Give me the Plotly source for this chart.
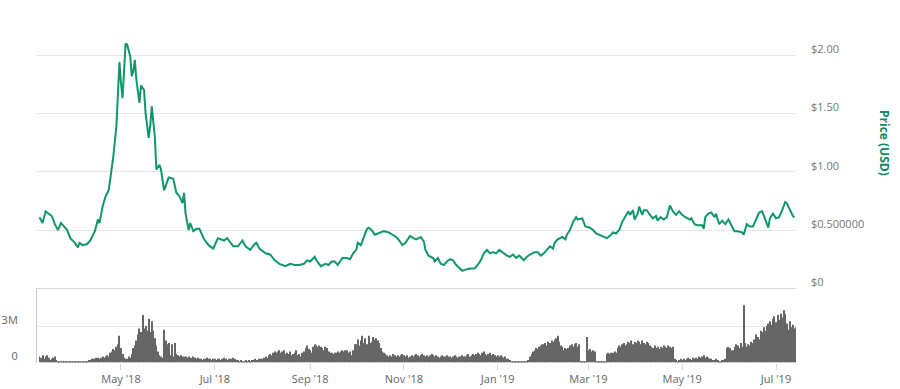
import plotly.graph_objects as go
import pandas as pd

# ---------------- price (USD) ----------------
price_dates = [
    "2018-03-09", "2018-03-11", "2018-03-13", "2018-03-15", "2018-03-17", "2018-03-19", "2018-03-21",
    "2018-03-23", "2018-03-25", "2018-03-27", "2018-03-29", "2018-04-01", "2018-04-03", "2018-04-04",
    "2018-04-06", "2018-04-09", "2018-04-11", "2018-04-14", "2018-04-16", "2018-04-17", "2018-04-19",
    "2018-04-21", "2018-04-23", "2018-04-25", "2018-04-26", "2018-04-28", "2018-04-29", "2018-04-30",
    "2018-05-01", "2018-05-02", "2018-05-04", "2018-05-05", "2018-05-07", "2018-05-08", "2018-05-09",
    "2018-05-10", "2018-05-11", "2018-05-13", "2018-05-14", "2018-05-16", "2018-05-17", "2018-05-18",
    "2018-05-19", "2018-05-20", "2018-05-21", "2018-05-23", "2018-05-24", "2018-05-26", "2018-05-27",
    "2018-05-29", "2018-06-01", "2018-06-04", "2018-06-06", "2018-06-08", "2018-06-10", "2018-06-11",
    "2018-06-12", "2018-06-14", "2018-06-15", "2018-06-17", "2018-06-19", "2018-06-21", "2018-06-24",
    "2018-06-27", "2018-06-30", "2018-07-03", "2018-07-07", "2018-07-09", "2018-07-11", "2018-07-13",
    "2018-07-16", "2018-07-19", "2018-07-21", "2018-07-24", "2018-07-27", "2018-07-28", "2018-07-30",
    "2018-08-03", "2018-08-06", "2018-08-09", "2018-08-12", "2018-08-16", "2018-08-19", "2018-08-22",
    "2018-08-25", "2018-08-28", "2018-08-30", "2018-09-01", "2018-09-04", "2018-09-05", "2018-09-08",
    "2018-09-11", "2018-09-13", "2018-09-15", "2018-09-17", "2018-09-19", "2018-09-22", "2018-09-25",
    "2018-09-27", "2018-09-29", "2018-10-01", "2018-10-02", "2018-10-04", "2018-10-06", "2018-10-08",
    "2018-10-09", "2018-10-11", "2018-10-13", "2018-10-15", "2018-10-17", "2018-10-19", "2018-10-22",
    "2018-10-25", "2018-10-27", "2018-10-29", "2018-10-31", "2018-11-02", "2018-11-05", "2018-11-07",
    "2018-11-09", "2018-11-12", "2018-11-14", "2018-11-15", "2018-11-17", "2018-11-20", "2018-11-21",
    "2018-11-23", "2018-11-25", "2018-11-27", "2018-11-29", "2018-12-01", "2018-12-03", "2018-12-05",
    "2018-12-09", "2018-12-11", "2018-12-14", "2018-12-17", "2018-12-19", "2018-12-21", "2018-12-23",
    "2018-12-25", "2018-12-27", "2018-12-29", "2018-12-31", "2019-01-02", "2019-01-05", "2019-01-07",
    "2019-01-09", "2019-01-11", "2019-01-13", "2019-01-15", "2019-01-18", "2019-01-20", "2019-01-22",
    "2019-01-25", "2019-01-27", "2019-01-29", "2019-01-31", "2019-02-02", "2019-02-04", "2019-02-06",
    "2019-02-07", "2019-02-09", "2019-02-12", "2019-02-14", "2019-02-15", "2019-02-17", "2019-02-19",
    "2019-02-21", "2019-02-22", "2019-02-25", "2019-02-27", "2019-03-02", "2019-03-04", "2019-03-06",
    "2019-03-08", "2019-03-11", "2019-03-13", "2019-03-15", "2019-03-17", "2019-03-19", "2019-03-21",
    "2019-03-23", "2019-03-25", "2019-03-27", "2019-03-28", "2019-03-30", "2019-03-31", "2019-04-02",
    "2019-04-03", "2019-04-05", "2019-04-06", "2019-04-08", "2019-04-10", "2019-04-12", "2019-04-14",
    "2019-04-15", "2019-04-17", "2019-04-19", "2019-04-21", "2019-04-23", "2019-04-25", "2019-04-27",
    "2019-04-29", "2019-05-01", "2019-05-03", "2019-05-06", "2019-05-07", "2019-05-09", "2019-05-11",
    "2019-05-14", "2019-05-15", "2019-05-16", "2019-05-18", "2019-05-20", "2019-05-22", "2019-05-23",
    "2019-05-25", "2019-05-27", "2019-05-29", "2019-05-31", "2019-06-02", "2019-06-04", "2019-06-06",
    "2019-06-09", "2019-06-10", "2019-06-12", "2019-06-14", "2019-06-16", "2019-06-18", "2019-06-20",
    "2019-06-22", "2019-06-24", "2019-06-26", "2019-06-27", "2019-06-29", "2019-07-01", "2019-07-03",
    "2019-07-05", "2019-07-07", "2019-07-08", "2019-07-10", "2019-07-12", "2019-07-13",
]
price_usd = [
    0.61, 0.56, 0.66, 0.64, 0.62, 0.55, 0.50,
    0.56, 0.53, 0.50, 0.43, 0.39, 0.35, 0.39,
    0.37, 0.38, 0.41, 0.49, 0.59, 0.56, 0.70,
    0.79, 0.84, 1.02, 1.13, 1.39, 1.64, 1.94,
    1.76, 1.63, 2.10, 2.09, 1.99, 1.82, 1.86,
    1.96, 1.79, 1.59, 1.74, 1.70, 1.50, 1.39,
    1.29, 1.39, 1.56, 1.30, 1.02, 1.06, 1.02,
    0.84, 0.95, 0.94, 0.82, 0.79, 0.73, 0.82,
    0.64, 0.50, 0.56, 0.49, 0.51, 0.51, 0.42,
    0.37, 0.34, 0.43, 0.41, 0.43, 0.39, 0.36,
    0.36, 0.41, 0.36, 0.33, 0.38, 0.39, 0.34,
    0.30, 0.29, 0.24, 0.21, 0.19, 0.21, 0.20,
    0.20, 0.21, 0.24, 0.23, 0.27, 0.24, 0.19,
    0.21, 0.20, 0.23, 0.23, 0.20, 0.26, 0.26,
    0.25, 0.30, 0.33, 0.39, 0.37, 0.44, 0.51,
    0.52, 0.50, 0.46, 0.47, 0.48, 0.49, 0.48,
    0.46, 0.44, 0.41, 0.37, 0.39, 0.45, 0.43,
    0.42, 0.44, 0.40, 0.33, 0.28, 0.26, 0.23,
    0.26, 0.21, 0.20, 0.23, 0.25, 0.24, 0.20,
    0.15, 0.16, 0.17, 0.17, 0.20, 0.24, 0.30,
    0.33, 0.30, 0.31, 0.30, 0.33, 0.30, 0.28,
    0.27, 0.29, 0.26, 0.28, 0.24, 0.27, 0.29,
    0.31, 0.31, 0.28, 0.30, 0.33, 0.36, 0.34,
    0.39, 0.42, 0.44, 0.42, 0.46, 0.50, 0.57,
    0.61, 0.59, 0.60, 0.53, 0.52, 0.50, 0.47,
    0.46, 0.44, 0.43, 0.45, 0.48, 0.47, 0.50,
    0.57, 0.61, 0.66, 0.63, 0.67, 0.59, 0.64,
    0.70, 0.63, 0.67, 0.67, 0.63, 0.60, 0.62,
    0.58, 0.61, 0.59, 0.61, 0.71, 0.66, 0.63,
    0.66, 0.63, 0.61, 0.59, 0.60, 0.55, 0.54,
    0.54, 0.51, 0.61, 0.64, 0.65, 0.61, 0.64,
    0.55, 0.58, 0.55, 0.59, 0.54, 0.49, 0.49,
    0.48, 0.46, 0.55, 0.53, 0.53, 0.59, 0.65,
    0.66, 0.59, 0.52, 0.60, 0.64, 0.60, 0.61,
    0.67, 0.74, 0.73, 0.67, 0.62, 0.61,
]

# ---------------- daily volume (millions), one list per month ----------------
vol_2018_03 = [0.5, 0.4, 0.6, 0.3, 0.5, 0.6, 0.4, 0.2, 0.3, 0.4, 0.5, 0.2,
               0.1, 0.1, 0.1, 0.1, 0.1, 0.1, 0.05, 0.05, 0.05, 0.05, 0.05]
vol_2018_04 = [0.05, 0.05, 0.05, 0.05, 0.1, 0.1, 0.1, 0.1, 0.1, 0.2, 0.2, 0.3, 0.3,
               0.3, 0.4, 0.4, 0.3, 0.4, 0.5, 0.4, 0.5, 0.6, 0.5, 0.8,
               0.9, 1.1, 1.0, 1.3, 1.5, 2.2]
vol_2018_05 = [1.2, 0.7, 0.4, 0.3, 0.3, 0.5, 0.4, 0.7, 1.2, 1.4, 1.8, 2.3, 2.8, 2.5,
               3.9, 2.8, 3.0, 2.6, 3.6, 2.5, 3.4, 2.6, 2.0, 1.4,
               0.9, 0.6, 0.5, 0.4, 2.7, 1.8, 1.5]
vol_2018_06 = [1.6, 0.6, 1.5, 0.5, 1.6, 0.7, 0.6, 0.5, 0.6, 0.5,
               0.5, 0.5, 0.4, 0.5, 0.4, 0.4, 0.5, 0.4, 0.3, 0.4,
               0.3, 0.3, 0.2, 0.3, 0.3, 0.4, 0.3, 0.3, 0.2, 0.3]
vol_2018_07 = [0.3, 0.2, 0.3, 0.3, 0.2, 0.3, 0.4, 0.3, 0.2, 0.3, 0.3, 0.3, 0.4, 0.3, 0.2,
               0.2, 0.1, 0.2, 0.1, 0.1, 0.2, 0.1, 0.2, 0.1, 0.2, 0.2, 0.3, 0.2, 0.2, 0.3, 0.3]
vol_2018_08 = [0.3, 0.4, 0.5, 0.4, 0.6, 0.7, 0.6, 0.8, 0.9, 0.8, 0.9, 1.0, 0.8, 0.9, 1.0,
               0.7, 0.8, 0.7, 0.9, 0.6, 0.7, 0.8, 1.0, 0.6, 0.7, 0.5, 0.8, 0.9, 1.2, 1.4, 1.1]
vol_2018_09 = [1.0, 0.8, 1.3, 1.5, 1.4, 1.3, 1.4, 1.3, 1.2, 1.0, 1.3, 1.2, 0.9, 0.8, 0.8,
               0.7, 0.8, 0.8, 0.9, 0.8, 0.9, 1.0, 0.9, 1.0, 1.0, 0.8, 0.9, 0.6, 1.0, 1.5]
vol_2018_10 = [1.5, 1.9, 1.4, 1.8, 2.2, 1.6, 2.0, 1.5, 2.2, 1.6, 1.7, 2.1, 1.9, 2.0, 1.8,
               1.6, 1.2, 0.9, 0.8, 0.7, 0.6, 0.5, 0.6, 0.5, 0.7, 0.6, 0.5, 0.6, 0.5, 0.6, 0.7]
vol_2018_11 = [0.6, 0.5, 0.6, 0.4, 0.5, 0.6, 0.5, 0.6, 0.7, 0.6, 0.5, 0.6, 0.7, 0.6, 0.5,
               0.6, 0.5, 0.6, 0.7, 0.6, 0.5, 0.6, 0.5, 0.4, 0.5, 0.6, 0.5, 0.5, 0.6, 0.5]
vol_2018_12 = [0.5, 0.4, 0.5, 0.6, 0.5, 0.4, 0.5, 0.5, 0.6, 0.5, 0.5, 0.6, 0.7, 0.5, 0.6,
               0.7, 0.6, 0.7, 0.8, 0.7, 0.6, 0.8, 0.9, 0.7, 0.6, 0.7, 0.8, 0.6, 0.7, 0.6, 0.5]
vol_2019_01 = [0.6, 0.5, 0.6, 0.5, 0.4, 0.5, 0.3, 0.3, 0.2,
               0.1, 0.1, 0.1, 0.05, 0.05, 0.1, 0.1, 0.1, 0.05, 0.1, 0.1, 0.2,
               0.5, 0.7, 0.9, 1.0, 1.2, 1.1, 1.3, 1.4, 1.5, 1.5]
vol_2019_02 = [1.6, 1.4, 1.7, 1.6, 1.8, 1.7, 1.9, 2.0, 2.2, 1.7, 1.4, 1.3, 1.0, 1.2,
               1.1, 1.2, 1.4, 1.5, 1.3, 1.5, 1.6, 1.3, 1.5, 0.1, 0.05, 0.05, 0.05, 2.1]
vol_2019_03 = [1.0, 1.1, 0.9, 1.0, 0.9, 0.1, 0.05, 0.05, 0.1, 0.05, 0.1, 0.1,
               0.7, 0.8, 0.7, 0.8, 0.8, 0.9, 0.8,
               1.2, 1.4, 1.3, 1.5, 1.6, 1.4, 1.5, 1.7, 1.6, 1.8, 1.5, 1.7]
vol_2019_04 = [1.6, 1.8, 1.7, 1.5, 1.8, 1.6, 1.5, 1.7, 1.6, 1.4, 1.3, 1.2, 1.4, 1.2, 1.3,
               1.1, 1.3, 1.2, 1.4, 1.3, 1.2, 1.4, 1.3, 1.2, 1.3, 0.3, 0.2, 0.1, 0.2, 0.3]
vol_2019_05 = [0.2, 0.3, 0.2, 0.3, 0.4, 0.3, 0.2, 0.4, 0.3, 0.4, 0.3, 0.5, 0.4, 0.5, 0.6,
               0.4, 0.5, 0.4, 0.3, 0.3, 0.2, 0.2, 0.3, 0.2, 0.1, 0.1, 0.2, 0.2, 0.3, 1.2, 1.3]
vol_2019_06 = [1.2, 1.0, 1.0, 1.3, 1.5, 1.4, 1.2, 1.6, 1.3, 4.7, 1.6, 1.3, 1.5, 1.4, 1.7,
               1.6, 1.9, 2.3, 2.1, 1.9, 2.6, 2.5, 2.9, 2.6, 3.0, 3.2, 3.4, 3.1, 3.6, 3.8]
vol_2019_07 = [3.3, 3.9, 3.5, 4.0, 3.7, 4.3, 4.0, 3.2, 2.7, 3.4, 2.9, 3.1, 2.8, 2.9]

volume_months = [
    ("2018-03-09", vol_2018_03), ("2018-04-01", vol_2018_04), ("2018-05-01", vol_2018_05),
    ("2018-06-01", vol_2018_06), ("2018-07-01", vol_2018_07), ("2018-08-01", vol_2018_08),
    ("2018-09-01", vol_2018_09), ("2018-10-01", vol_2018_10), ("2018-11-01", vol_2018_11),
    ("2018-12-01", vol_2018_12), ("2019-01-01", vol_2019_01), ("2019-02-01", vol_2019_02),
    ("2019-03-01", vol_2019_03), ("2019-04-01", vol_2019_04), ("2019-05-01", vol_2019_05),
    ("2019-06-01", vol_2019_06), ("2019-07-01", vol_2019_07),
]

# ---------------- axis labels ----------------
x_tick_dates = ["2018-05-01", "2018-07-01", "2018-09-01", "2018-11-01",
                "2019-01-01", "2019-03-01", "2019-05-01", "2019-07-01"]
x_tick_labels = ["May '18", "Jul '18", "Sep '18", "Nov '18",
                 "Jan '19", "Mar '19", "May '19", "Jul '19"]
price_ticks = [0, 0.5, 1.0, 1.5, 2.0]
price_tick_labels = ["$0", "$0.500000", "$1.00", "$1.50", "$2.00"]
volume_ticks = [0, 3_000_000]
volume_tick_labels = ["0", "3M"]

# ---------------- build ----------------
vol_dates = []
vol_values = []
for start, vals in volume_months:
    vol_dates.extend(pd.date_range(start, periods=len(vals), freq="D"))
    vol_values.extend(v * 1_000_000 for v in vals)

W, H = 900, 389
def fx(px):
    return px / W
def fy(py):
    return 1 - py / H

GREEN = "#11966c"
FONT = "Open Sans"
x_range = ["2018-03-07 09:00", "2019-07-14 00:00"]

fig = go.Figure()
fig.add_trace(go.Scatter(
    x=pd.to_datetime(price_dates), y=price_usd, mode="lines",
    line=dict(color=GREEN, width=2), xaxis="x", yaxis="y",
    hoverinfo="skip", showlegend=False,
))
fig.add_trace(go.Bar(
    x=vol_dates, y=vol_values, marker=dict(color="#666666", line=dict(width=0)),
    xaxis="x2", yaxis="y2", hoverinfo="skip", showlegend=False,
))

fig.update_layout(
    template="none",
    width=W, height=H,
    margin=dict(l=0, r=0, t=0, b=0),
    paper_bgcolor="white", plot_bgcolor="white",
    font=dict(family=FONT, size=11, color="#666666"),
    bargap=0.35,
    xaxis=dict(
        domain=[fx(37), fx(796)], range=x_range, anchor="y",
        showticklabels=False, showgrid=False, zeroline=False, showline=False,
        ticks="", automargin=False,
    ),
    yaxis=dict(
        domain=[fy(288.3), fy(31.8)], range=[0, 2.2], anchor="x", side="right",
        tickvals=price_ticks, ticktext=price_tick_labels,
        showgrid=True, gridcolor="#e6e6e6", gridwidth=1,
        zeroline=True, zerolinecolor="#d8d8d8", zerolinewidth=1,
        showline=False, ticks="", ticklabelstandoff=14, ticklabelshift=-6,
        tickfont=dict(size=11, color="#777777"), automargin=False,
    ),
    xaxis2=dict(
        domain=[fx(37), fx(796)], range=x_range, anchor="y2", matches="x",
        tickvals=x_tick_dates, ticktext=x_tick_labels,
        ticks="outside", ticklen=6, tickcolor="#ccd6eb", tickwidth=1,
        showgrid=False, zeroline=False, showline=False,
        tickfont=dict(size=11, color="#666666"), automargin=False,
    ),
    yaxis2=dict(
        domain=[fy(362.5), fy(288.3)], range=[0, 6.1e6], anchor="x2", side="left",
        tickvals=volume_ticks, ticktext=volume_tick_labels,
        showgrid=True, gridcolor="#e6e6e6", gridwidth=1,
        zeroline=False, showline=True, linecolor="#cccccc", linewidth=1,
        ticks="", ticklabelstandoff=16, ticklabelshift=-6,
        tickfont=dict(size=11, color="#666666"), automargin=False,
    ),
    annotations=[dict(
        text="<b>Price (USD)</b>", x=fx(885), y=fy(143), xref="paper", yref="paper",
        showarrow=False, textangle=90, xanchor="center", yanchor="middle",
        font=dict(family=FONT, size=12, color="#0f8a66"),
    )],
)

fig.write_html("out.html")
